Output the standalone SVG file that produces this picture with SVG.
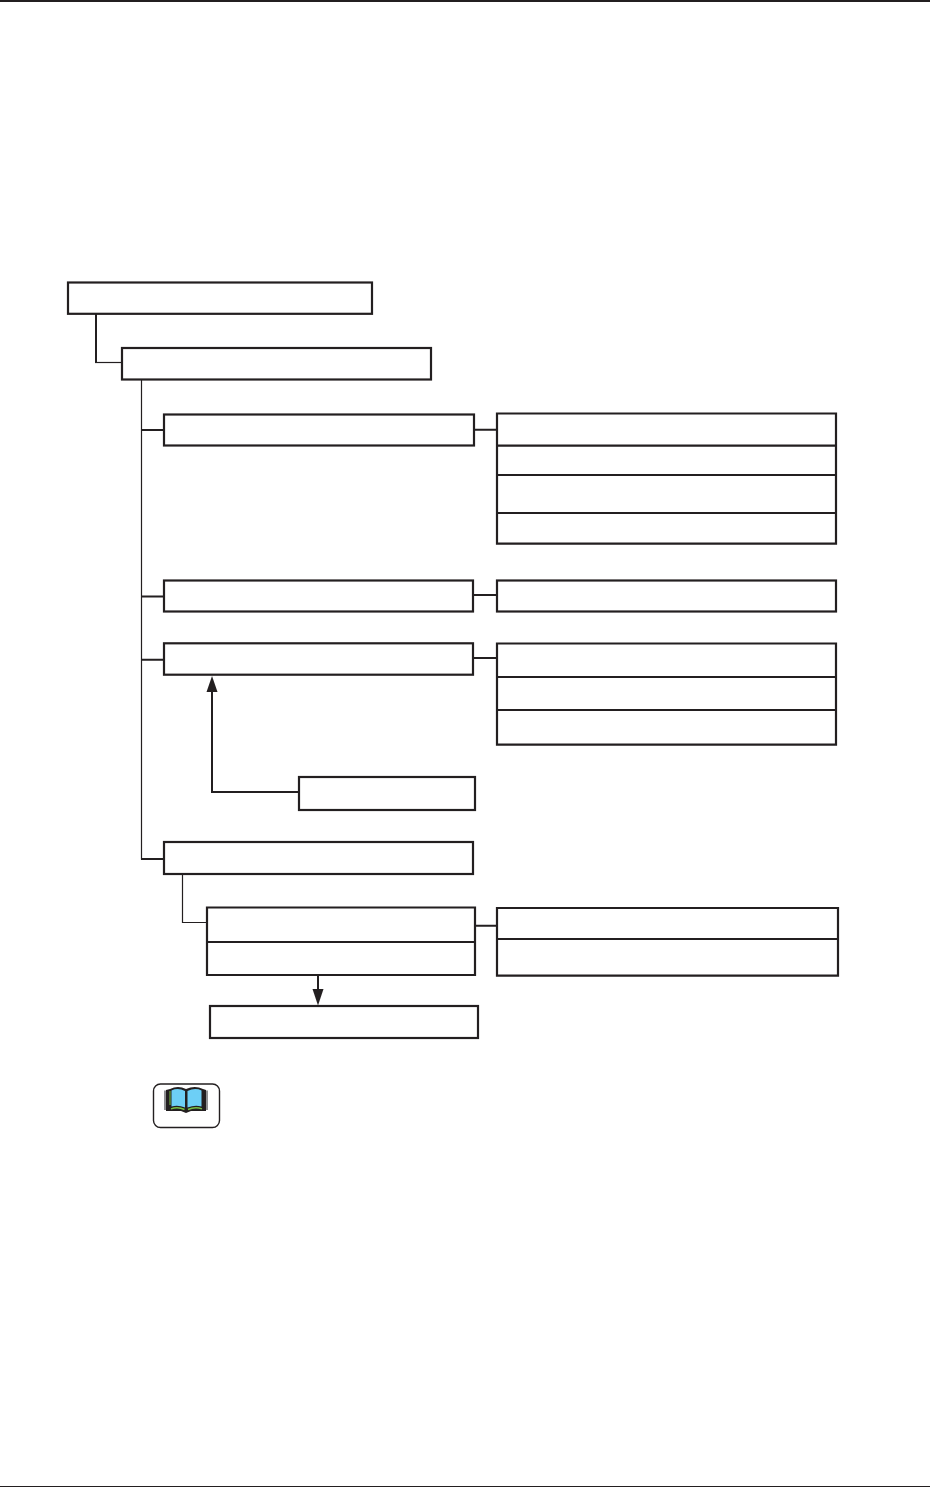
<svg xmlns="http://www.w3.org/2000/svg" width="930" height="1487" viewBox="0 0 930 1487">
<style>
.b{fill:#fff;stroke:#231f20;stroke-width:2.200}
.d{fill:none;stroke:#231f20;stroke-width:2.200}
.c{fill:none;stroke:#231f20;stroke-width:2}
.t{fill:none;stroke:#231f20;stroke-width:1.200}
.h{fill:#231f20;stroke:none}
</style>
<rect width="930" height="1487" fill="#fff"/>
<rect id="page-top" x="0" y="0" width="930" height="2" fill="#231f20"/>
<rect id="page-bottom" x="0" y="1486" width="930" height="1" fill="#231f20"/>
<g id="connectors">
<path class="c" d="M96 314V363"/><path class="t" d="M95 362.500H122"/>
<path class="t" d="M141.500 380V859.500"/>
<path class="c" d="M141 430H164M141 596.500H164M141 659.700H164M141 859H164"/>
<path class="c" d="M474 429.700H497M473 595H497M473 658H497M475 925.700H497"/>
<path class="t" d="M182.500 874V922.500H207"/>
<path class="c" d="M299 792H212V690"/><path class="h" d="M212 676L217.500 692H206.500Z"/>
<path class="c" d="M318 975V991"/><path class="h" d="M318 1005.500L312.500 989H323.500Z"/>
</g>
<g id="n1"><rect class="b" x="68" y="282.500" width="304" height="31.300"/></g>
<g id="n2"><rect class="b" x="122" y="348" width="309" height="31.500"/></g>
<g id="n3"><rect class="b" x="164" y="414.500" width="310" height="31"/></g>
<g id="n4"><path class="b" d="M497 413.500H836V543.700H497Z"/><path class="d" d="M497 445.700H836M497 475H836M497 513H836"/></g>
<g id="n5"><rect class="b" x="164" y="580.500" width="309" height="31"/></g>
<g id="n6"><rect class="b" x="497" y="580.500" width="339" height="31"/></g>
<g id="n7"><rect class="b" x="164" y="643.300" width="309" height="31.400"/></g>
<g id="n8"><path class="b" d="M497 643.500H836V744.700H497Z"/><path class="d" d="M497 677H836M497 710H836"/></g>
<g id="n9"><rect class="b" x="299" y="777" width="176" height="33"/></g>
<g id="n10"><rect class="b" x="164" y="842" width="309" height="32"/></g>
<g id="n11"><path class="b" d="M207 907.500H475V975H207Z"/><path class="d" d="M207 942H475"/></g>
<g id="n12"><path class="b" d="M497 908H838V975.700H497Z"/><path class="d" d="M497 939H838"/></g>
<g id="n13"><rect class="b" x="210" y="1006" width="268" height="32"/></g>
<g id="book-icon">
<rect x="153.500" y="1084" width="66" height="43.500" rx="7" fill="#fff" stroke="#231f20" stroke-width="1.400"/>
<path d="M164 1090.500H167V1110H164ZM205 1090.500H208V1110H205Z" fill="#8f9092"/>
<path d="M166 1090L170 1089Q178 1085 186 1089Q195 1085 203 1089L206 1090V1111H191L186 1113L181 1111H166Z" fill="#231f20"/>
<path d="M171.500 1090.500Q178 1087.500 185 1091V1107.500Q178 1104.500 171.500 1106.500Z" fill="#6dcff6"/>
<path d="M187.500 1091Q195 1087.500 201.500 1090.500V1106.500Q195 1104.500 187.500 1107.500Z" fill="#6dcff6"/>
<path d="M170 1091V1105" fill="none" stroke="#7ac143" stroke-width="1"/>
<path d="M171 1108.800Q178 1106.500 184.500 1109.500M188 1109.500Q195 1106.500 202 1108.800" fill="none" stroke="#7ac143" stroke-width="1.400"/>
</g>
</svg>
